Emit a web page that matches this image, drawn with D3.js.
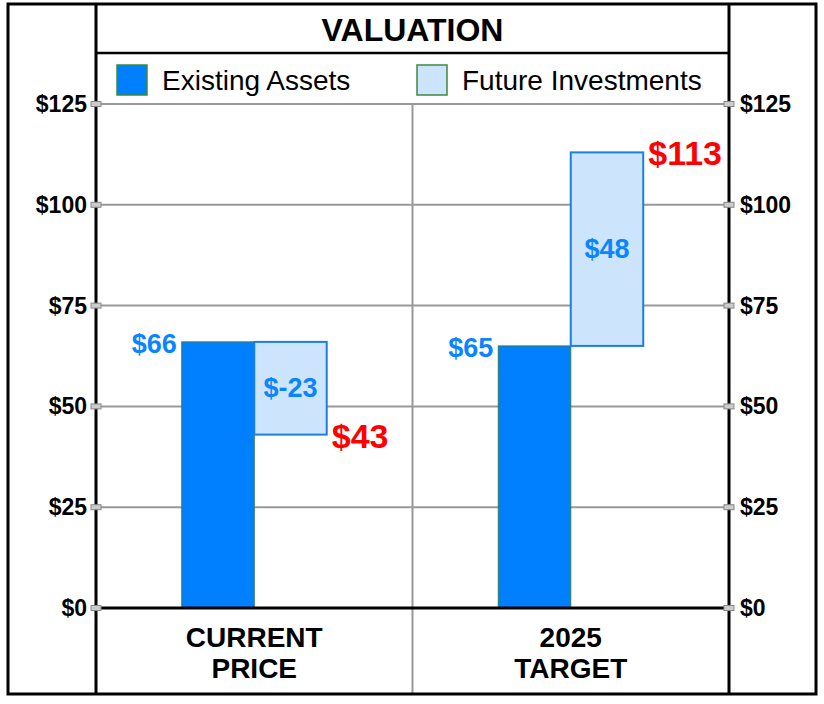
<!DOCTYPE html>
<html>
<head>
<meta charset="utf-8">
<script src="https://cdn.jsdelivr.net/npm/d3@7"></script>
<style>
  body { margin: 0; background: #fff; }
  text { font-family: "Liberation Sans", Arial, sans-serif; }
</style>
</head>
<body>
<div id="chart"></div>
<script>
const categories = ["CURRENT PRICE", "2025 TARGET"];
const categoryLines = [["CURRENT", "PRICE"], ["2025", "TARGET"]];
const existingAssets = [66, 65];
const futureInvestments = [-23, 48];
const totals = [43, 113];
const yTicks = [0, 25, 50, 75, 100, 125];
const legendLabels = ["Existing Assets", "Future Investments"];

const width = 824, height = 704;
const plotLeft = 96, plotRight = 729, plotTop = 104, plotBottom = 608;

const svg = d3.select("#chart").append("svg")
    .attr("width", width)
    .attr("height", height);

const x = d3.scaleBand().domain(categories).range([plotLeft, plotRight]);
const y = d3.scaleLinear().domain([0, 125]).range([plotBottom, plotTop]);
const barW = x.bandwidth() * 0.229;

// gridlines
svg.append("g").selectAll("line")
    .data(yTicks.filter(d => d > 0))
    .enter().append("line")
    .attr("x1", plotLeft).attr("x2", plotRight)
    .attr("y1", d => y(d)).attr("y2", d => y(d))
    .attr("stroke", "#999").attr("stroke-width", 2);

// middle divider
svg.append("line")
    .attr("x1", x(categories[1])).attr("x2", x(categories[1]))
    .attr("y1", plotTop).attr("y2", 694)
    .attr("stroke", "#999").attr("stroke-width", 2);

// frame
svg.append("rect")
    .attr("x", 8).attr("y", 4).attr("width", 808).attr("height", 690)
    .attr("fill", "none").attr("stroke", "#000").attr("stroke-width", 3);
[plotLeft, plotRight].forEach(xx => {
  svg.append("line")
      .attr("x1", xx).attr("x2", xx).attr("y1", 4).attr("y2", 694)
      .attr("stroke", "#000").attr("stroke-width", 3);
});
svg.append("line")
    .attr("x1", plotLeft).attr("x2", plotRight).attr("y1", 53).attr("y2", 53)
    .attr("stroke", "#000").attr("stroke-width", 2.5);

// title
svg.append("text")
    .attr("x", (plotLeft + plotRight) / 2).attr("y", 30)
    .attr("text-anchor", "middle").attr("dominant-baseline", "central")
    .attr("font-size", 32).attr("font-weight", "bold")
    .text("VALUATION");

// legend
const legend = svg.append("g");
[117, 417].forEach((lx, i) => {
  legend.append("rect")
      .attr("x", lx).attr("y", 65).attr("width", 30).attr("height", 30)
      .attr("fill", i === 0 ? "#0080ff" : "#cce4fc")
      .attr("stroke", "#3a8a3a").attr("stroke-width", 1.5);
  legend.append("text")
      .attr("x", lx + 45).attr("y", 80)
      .attr("dominant-baseline", "central")
      .attr("font-size", 28)
      .text(legendLabels[i]);
});

// bars
const cx = i => x(categories[i]) + x.bandwidth() / 2;

svg.append("g").selectAll("rect")
    .data(existingAssets)
    .enter().append("rect")
    .attr("x", (d, i) => cx(i) - barW)
    .attr("y", d => y(d))
    .attr("width", barW)
    .attr("height", d => y(0) - y(d))
    .attr("fill", "#0080ff")
    .attr("stroke", "#2f7f4f").attr("stroke-width", 1);

svg.append("g").selectAll("rect")
    .data(futureInvestments)
    .enter().append("rect")
    .attr("x", (d, i) => cx(i))
    .attr("y", (d, i) => y(Math.max(existingAssets[i], totals[i])))
    .attr("width", barW)
    .attr("height", (d, i) => Math.abs(y(existingAssets[i]) - y(totals[i])))
    .attr("fill", "#cce4fc")
    .attr("stroke", "#1a80e0").attr("stroke-width", 2);

// zero line and tick markers
svg.append("line")
    .attr("x1", plotLeft).attr("x2", plotRight).attr("y1", y(0)).attr("y2", y(0))
    .attr("stroke", "#000").attr("stroke-width", 3);

[plotLeft, plotRight].forEach(xx => {
  svg.append("g").selectAll("rect")
      .data(yTicks)
      .enter().append("rect")
      .attr("x", xx - 5).attr("y", d => y(d) - 2.5)
      .attr("width", 10).attr("height", 5)
      .attr("fill", "#ccc").attr("stroke", "#888").attr("stroke-width", 1);
});

// axis labels
svg.append("g").selectAll("text")
    .data(yTicks)
    .enter().append("text")
    .attr("x", 87).attr("y", d => y(d))
    .attr("text-anchor", "end").attr("dominant-baseline", "central")
    .attr("font-size", 23).attr("font-weight", "bold")
    .text(d => "$" + d);
svg.append("g").selectAll("text")
    .data(yTicks)
    .enter().append("text")
    .attr("x", 740).attr("y", d => y(d))
    .attr("dominant-baseline", "central")
    .attr("font-size", 23).attr("font-weight", "bold")
    .text(d => "$" + d);

// category labels
categoryLines.forEach((lines, i) => {
  lines.forEach((t, j) => {
    svg.append("text")
        .attr("x", cx(i)).attr("y", 637 + j * 31)
        .attr("text-anchor", "middle").attr("dominant-baseline", "central")
        .attr("font-size", 28).attr("font-weight", "bold")
        .text(t);
  });
});

// value labels
svg.append("g").selectAll("text")
    .data(existingAssets)
    .enter().append("text")
    .attr("x", (d, i) => cx(i) - barW - 5)
    .attr("y", d => y(d) + 2)
    .attr("text-anchor", "end").attr("dominant-baseline", "central")
    .attr("font-size", 27).attr("font-weight", "bold")
    .attr("fill", "#0a84ff")
    .text(d => "$" + d);

svg.append("g").selectAll("text")
    .data(futureInvestments)
    .enter().append("text")
    .attr("x", (d, i) => cx(i) + barW / 2)
    .attr("y", (d, i) => (y(existingAssets[i]) + y(totals[i])) / 2)
    .attr("text-anchor", "middle").attr("dominant-baseline", "central")
    .attr("font-size", 27).attr("font-weight", "bold")
    .attr("fill", "#0a84ff")
    .text(d => "$" + d);

svg.append("g").selectAll("text")
    .data(totals)
    .enter().append("text")
    .attr("x", (d, i) => cx(i) + barW + 5)
    .attr("y", d => y(d) + 1)
    .attr("dominant-baseline", "central")
    .attr("font-size", 34).attr("font-weight", "bold")
    .attr("fill", "#ff0000")
    .text(d => "$" + d);
</script>
</body>
</html>
